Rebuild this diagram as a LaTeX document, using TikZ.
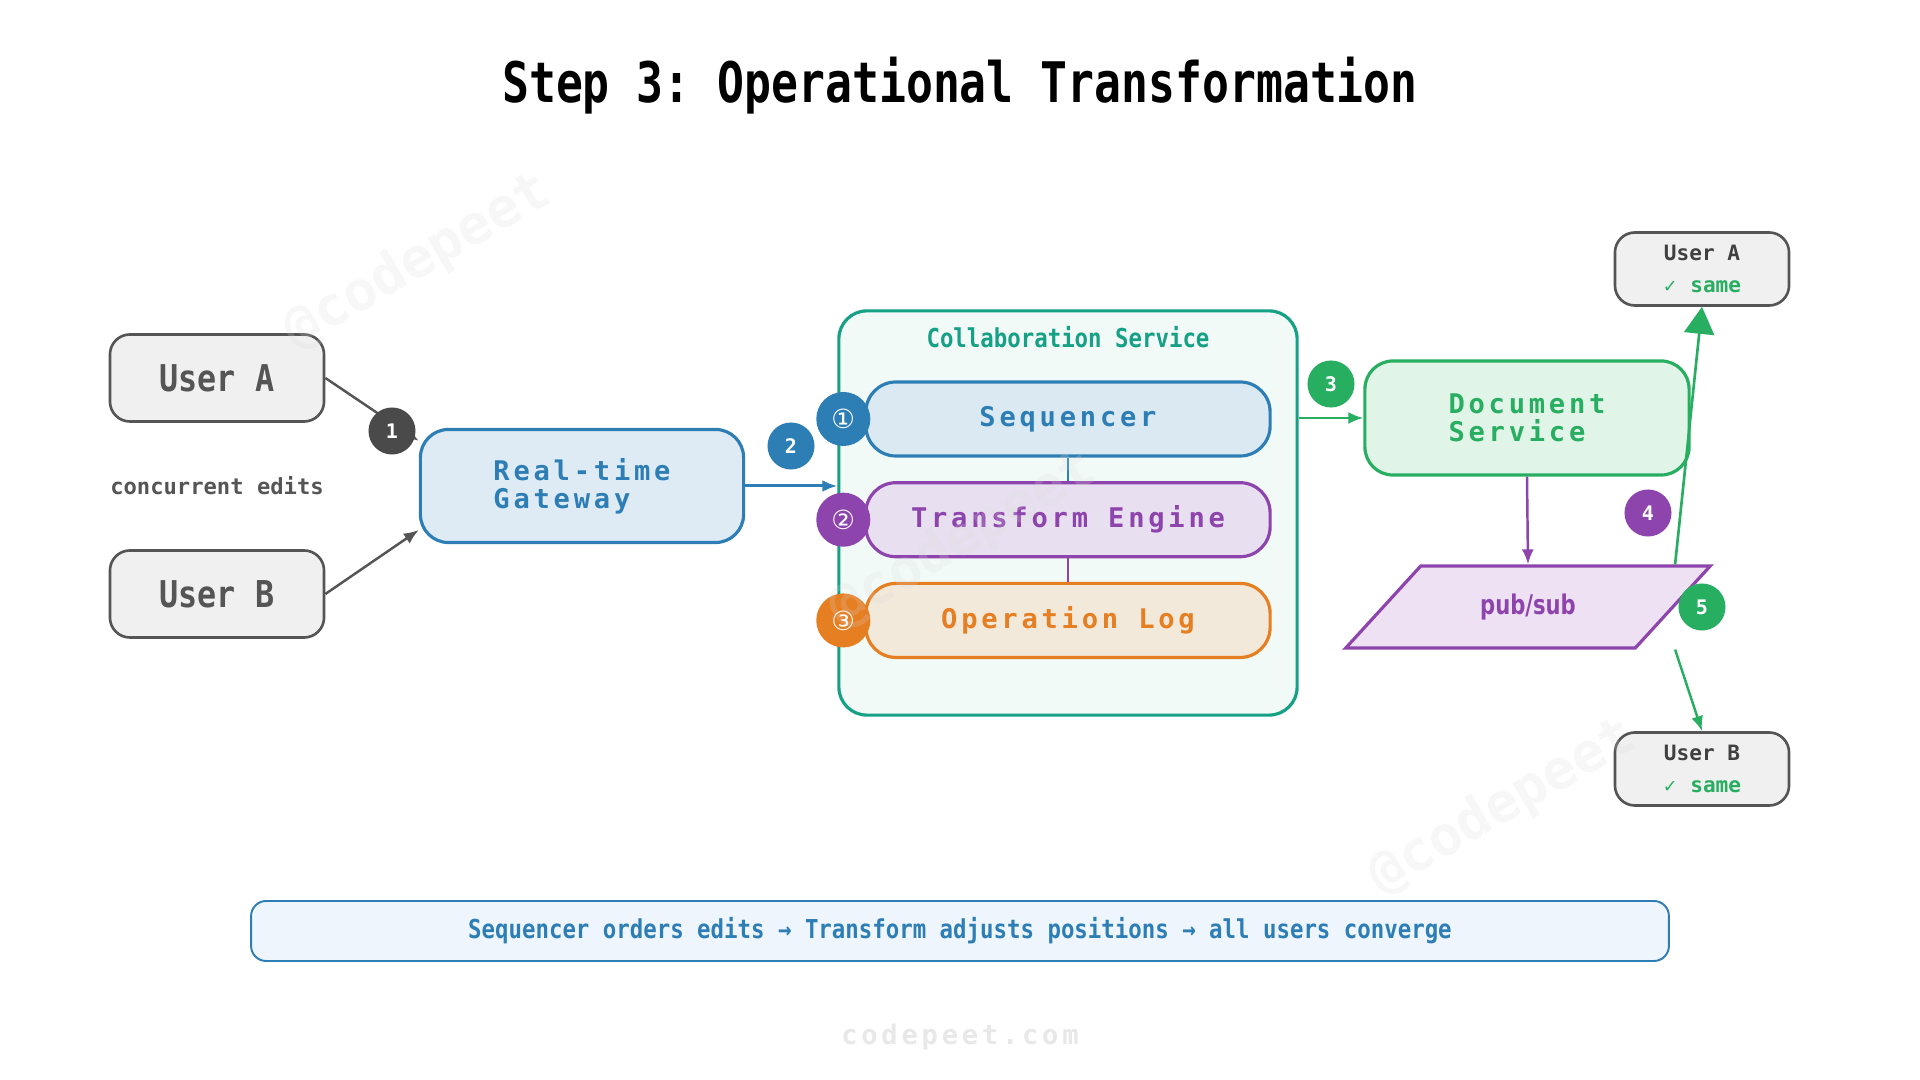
\documentclass[tikz,border=0pt]{standalone}
\usepackage{fontspec}
\usepackage{xcolor}
\usepackage{tikz}
\usetikzlibrary{arrows.meta,positioning,shapes.geometric}
\frenchspacing
\newfontfamily\headfont[FakeStretch=0.8]{DejaVu Sans Mono}
\newfontfamily\condfont[FakeStretch=0.86]{DejaVu Sans Mono}
\newfontfamily\spacedfont[LetterSpace=14]{DejaVu Sans Mono}
\newfontfamily\plainfont{DejaVu Sans Mono}
\newfontfamily\psfont[FakeStretch=0.78]{DejaVu Sans}
\newfontfamily\symfont{DejaVu Sans}
\definecolor{usergray}{HTML}{555555}
\definecolor{userfill}{HTML}{F0F0F0}
\definecolor{badgegray}{HTML}{4A4A4A}
\definecolor{gwblue}{HTML}{2E7EB6}
\definecolor{gwfill}{HTML}{DEEBF5}
\definecolor{collteal}{HTML}{16A085}
\definecolor{collfill}{HTML}{F2FAF7}
\definecolor{seqfill}{HTML}{DAE9F2}
\definecolor{tepurple}{HTML}{8E44AD}
\definecolor{tefill}{HTML}{E8E0F0}
\definecolor{logorange}{HTML}{E67E22}
\definecolor{logfill}{HTML}{F3E9DB}
\definecolor{docgreen}{HTML}{27AE60}
\definecolor{docfill}{HTML}{E1F4E8}
\definecolor{psfill}{HTML}{EEE1F3}
\definecolor{notefill}{HTML}{EEF5FC}
\tikzset{
  userbox/.style={draw=usergray, fill=userfill, rounded corners=0.2cm, line width=0.75pt,
                  minimum width=2.14cm, minimum height=0.87cm, text=usergray,
                  font=\condfont\bfseries\fontsize{10.5}{12}\selectfont},
  outbox/.style={userbox, minimum width=1.74cm, minimum height=0.73cm, align=center,
                 inner sep=1pt, text=black!75, font=\plainfont\bfseries\fontsize{6}{9}\selectfont},
  svcbox/.style={rounded corners=0.28cm, line width=0.9pt, align=left,
                 font=\spacedfont\bfseries\fontsize{7.7}{7.9}\selectfont},
  stagebox/.style={svcbox, rounded corners=0.3cm, minimum width=4.04cm, minimum height=0.74cm},
  badge/.style={circle, minimum size=0.47cm, inner sep=0pt, text=white,
                font=\plainfont\bfseries\fontsize{5.7}{6}\selectfont},
  stepdisc/.style={circle, minimum size=0.54cm, inner sep=0pt, text=white,
                   font=\symfont\fontsize{7.5}{8}\selectfont},
  arrow/.style={-{Latex[length=1.5mm,width=1.2mm]}, line width=0.7pt},
  thinlink/.style={line width=0.3pt},
  watermark/.style={rotate=30, text=black!15, text opacity=0.2,
                    font=\plainfont\bfseries\fontsize{15.6}{17}\selectfont}
}
\begin{document}
\begin{tikzpicture}[x=0.01cm, y=-0.01cm, node distance=0.235cm]
  \fill[white] (0,0) rectangle (1920,1080);
  \useasboundingbox (0,0) rectangle (1920,1080);
  \node[font=\headfont\bfseries\fontsize{15.9}{18}\selectfont, text=black] (title) at (960,86) {Step 3: Operational Transformation};
  \node[userbox] (ua) at (217,378) {User A};
  \node[userbox] (ub) at (217,594) {User B};
  \node[text=usergray, font=\plainfont\bfseries\fontsize{6.3}{7}\selectfont] (conc) at (217,486) {concurrent edits};
  \node[svcbox, draw=gwblue, fill=gwfill, text=gwblue, minimum width=3.23cm, minimum height=1.13cm] (gw) at (582,486) {Real-time\\Gateway};
  \node[draw=collteal, fill=collfill, line width=0.9pt, rounded corners=0.28cm, minimum width=4.58cm, minimum height=4.04cm] (coll) at (1068,513) {};
  \node[text=collteal, font=\condfont\bfseries\fontsize{7.4}{8}\selectfont] (colltitle) at ([yshift=-0.28cm]coll.north) {Collaboration Service};
  \node[stagebox, draw=gwblue, fill=seqfill, text=gwblue] (seq) at (1068,419) {Sequencer};
  \node[stagebox, draw=tepurple, fill=tefill, text=tepurple, below=of seq] (te) {Transform Engine};
  \node[stagebox, draw=logorange, fill=logfill, text=logorange, below=of te] (ol) {Operation Log};
  \node[svcbox, draw=docgreen, fill=docfill, text=docgreen, minimum width=3.24cm, minimum height=1.14cm] (doc) at (1527,418) {Document\\Service};
  \node[trapezium, trapezium left angle=50, trapezium right angle=130, trapezium stretches=true,
        draw=tepurple, fill=psfill, line width=0.9pt, minimum width=3.66cm, minimum height=0.82cm,
        text=tepurple, font=\psfont\bfseries\fontsize{7.7}{8}\selectfont] (ps) at (1528,607) {pub/sub};
  \node[outbox] (ua2) at (1702,269) {User A\\{\symfont\fontsize{5}{6}\selectfont\color{docgreen}✓}~{\color{docgreen}same}};
  \node[outbox] (ub2) at (1702,769) {User B\\{\symfont\fontsize{5}{6}\selectfont\color{docgreen}✓}~{\color{docgreen}same}};
  \node[draw=gwblue, fill=notefill, line width=0.55pt, rounded corners=0.15cm, minimum width=14.17cm, minimum height=0.6cm,
        text=gwblue, font=\condfont\bfseries\fontsize{7.4}{8}\selectfont] (note) at (960,931) {Sequencer orders edits → Transform adjusts positions → all users converge};
  \node[text=black!9, font=\spacedfont\bfseries\fontsize{7.7}{8}\selectfont] (site) at (960,1037) {codepeet.com};
  \draw[arrow, draw=usergray] (ua.east) -- ([yshift=0.45cm]gw.west);
  \draw[arrow, draw=usergray] (ub.east) -- ([yshift=-0.44cm]gw.west);
  \draw[arrow, draw=gwblue, line width=0.85pt] (gw.east) -- (gw.east -| coll.west);
  \draw[thinlink, draw=gwblue] (seq) -- (te);
  \draw[thinlink, draw=tepurple] (te) -- (ol);
  \draw[arrow, draw=docgreen] (coll.east |- doc.west) -- (doc.west);
  \draw[arrow, draw=tepurple] (doc.south) -- (ps.north);
  \draw[-{Triangle[length=2.7mm,width=3mm]}, draw=docgreen, line width=0.75pt] ([xshift=1.47cm]ps.north) -- (ua2.south);
  \draw[arrow, draw=docgreen] ([xshift=1.47cm]ps.south) -- (ub2.north);
  \node[stepdisc, fill=gwblue] (s1) at ([xshift=-0.21cm]seq.west) {①};
  \node[stepdisc, fill=tepurple] (s2) at ([xshift=-0.21cm]te.west) {②};
  \node[stepdisc, fill=logorange] (s3) at ([xshift=-0.21cm]ol.west) {③};
  \node[badge, fill=badgegray] (b1) at (392,431) {1};
  \node[badge, fill=gwblue] (b2) at (791,446) {2};
  \node[badge, fill=docgreen] (b3) at (1331,384) {3};
  \node[badge, fill=tepurple] (b4) at (1648,513) {4};
  \node[badge, fill=docgreen] (b5) at (1702,607) {5};
  \node[watermark] (wm1) at (418,262) {@codepeet};
  \node[watermark] (wm2) at (963,540) {@codepeet};
  \node[watermark] (wm3) at (1503,807) {@codepeet};
\end{tikzpicture}
\end{document}
